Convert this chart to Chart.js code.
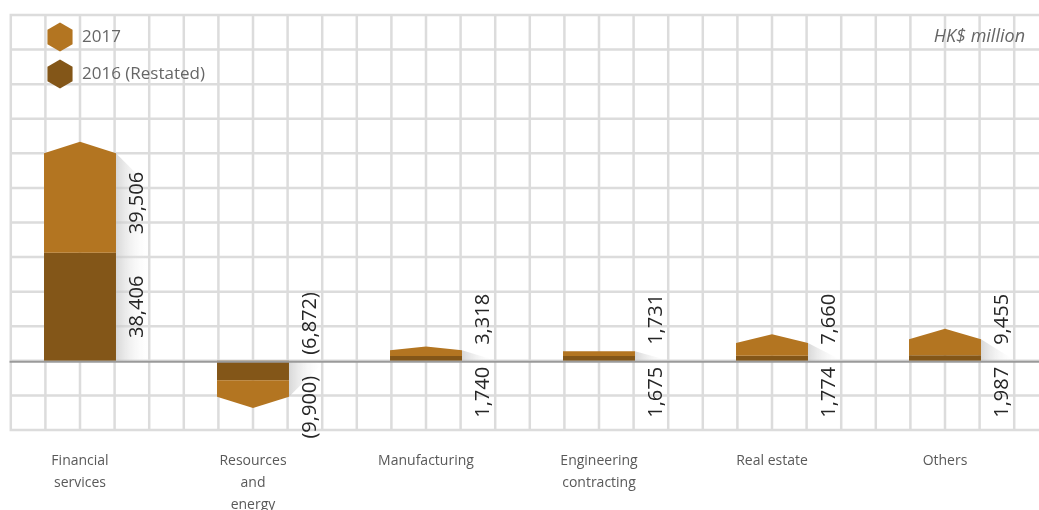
<!DOCTYPE html>
<html>
<head>
<meta charset="utf-8">
<script src="https://cdn.jsdelivr.net/npm/chart.js@4.4.1/dist/chart.umd.min.js"></script>
<style>
    html, body { margin: 0; padding: 0; background: #fff; }
    #wrap { width: 1039px; height: 510px; position: relative; }
</style>
</head>
<body>
<div id="wrap"><canvas id="chart"></canvas></div>
<script>
// values as printed on the chart, HK$ million
var categories = [["Financial", "services"], ["Resources", "and", "energy"], ["Manufacturing"], ["Engineering", "contracting"], ["Real estate"], ["Others"]];
var values2016 = [38406, -6872, 1740, 1675, 1774, 1987];
var values2017 = [39506, -9900, 3318, 1731, 7660, 9455];
var seriesNames = ["2016 (Restated)", "2017"];
var unitLabel = "HK$ million";

var Y_MIN = -24600;
var Y_MAX = 123000;
var Y_STEP = 12300;

var COLOR_2016 = "#835618";
var COLOR_2017 = "#b37521";
var GRID_COLOR = "#dcdcdc";
var FONT = "'Open Sans', 'Noto Sans', sans-serif";
var CELLS_PER_CATEGORY = 5;

function formatValue(v) {
    var s = Math.abs(v).toLocaleString("en-US");
    return v < 0 ? "(" + s + ")" : s;
}

function gridPitch(chart) {
    var area = chart.chartArea;
    return (area.right - area.left) / ((categories.length - 1) * CELLS_PER_CATEGORY);
}

// geometry of a bar element; pentagon cap only used for the outer series
function barShape(el, capped) {
    var p = el.getProps(["x", "y", "base", "width"], true);
    var half = p.width / 2;
    var dir = p.base >= p.y ? 1 : -1;
    var len = Math.abs(p.base - p.y);
    var cap = 0;
    if (capped && len > 6) {
        cap = Math.min(11.5, len * 0.4);
    }
    return {
        x: p.x,
        left: p.x - half,
        right: p.x + half,
        tip: p.y,
        shoulder: p.y + dir * cap,
        base: p.base,
        dir: dir
    };
}

function hexagon(ctx, cx, cy, r) {
    ctx.beginPath();
    for (var k = 0; k < 6; k++) {
        var a = Math.PI / 180 * (60 * k - 90);
        var px = cx + r * Math.cos(a);
        var py = cy + r * Math.sin(a);
        if (k === 0) {
            ctx.moveTo(px, py);
        } else {
            ctx.lineTo(px, py);
        }
    }
    ctx.closePath();
}

var paperPlugin = {
    id: "paper",
    beforeDatasetsDraw: function(chart) {
        var ctx = chart.ctx;
        var area = chart.chartArea;
        var yScale = chart.scales.y;
        var pitch = gridPitch(chart);
        var x0 = area.left - 2 * pitch;
        var top = yScale.getPixelForValue(Y_MAX);
        var bottom = yScale.getPixelForValue(Y_MIN);
        var zero = yScale.getPixelForValue(0);

        ctx.save();
        ctx.strokeStyle = GRID_COLOR;
        ctx.lineWidth = 2.5;
        ctx.beginPath();
        for (var x = x0; x <= chart.width; x += pitch) {
            ctx.moveTo(x, top - 1.25);
            ctx.lineTo(x, bottom + 1.25);
        }
        for (var v = Y_MIN; v <= Y_MAX; v += Y_STEP) {
            var py = yScale.getPixelForValue(v);
            ctx.moveTo(x0 - 1.25, py);
            ctx.lineTo(chart.width, py);
        }
        ctx.stroke();

        // soft shadow to the right of each bar
        var outerMeta = chart.getDatasetMeta(1);
        for (var i = 0; i < outerMeta.data.length; i++) {
            var s = barShape(outerMeta.data[i], true);
            var drop = Math.abs(zero - s.shoulder);
            var w = pitch;
            var grad = ctx.createLinearGradient(s.right, 0, s.right + w, 0);
            grad.addColorStop(0, "rgba(195,195,195,0.65)");
            grad.addColorStop(1, "rgba(255,255,255,0)");
            ctx.fillStyle = grad;
            ctx.beginPath();
            ctx.moveTo(s.right, s.shoulder);
            if (drop > w) {
                ctx.lineTo(s.right + w, s.shoulder + s.dir * w);
            }
            ctx.lineTo(s.right + w, zero);
            ctx.lineTo(s.right, zero);
            ctx.closePath();
            ctx.fill();
        }
        ctx.restore();
    },
    beforeDatasetDraw: function(chart, args) {
        // the capped series is painted by hand below
        if (chart.data.datasets[args.index].shape === "pentagon") {
            return false;
        }
    },
    afterDatasetsDraw: function(chart) {
        var ctx = chart.ctx;
        var yScale = chart.scales.y;
        var pitch = gridPitch(chart);
        var x0 = chart.chartArea.left - 2 * pitch;
        var zero = yScale.getPixelForValue(0);
        var innerMeta = chart.getDatasetMeta(0);
        var outerMeta = chart.getDatasetMeta(1);
        var outerSet = chart.data.datasets[1];

        ctx.save();
        // pentagon tops
        ctx.fillStyle = outerSet.backgroundColor;
        for (var i = 0; i < outerMeta.data.length; i++) {
            var s = barShape(outerMeta.data[i], true);
            ctx.beginPath();
            ctx.moveTo(s.left, s.base);
            ctx.lineTo(s.left, s.shoulder);
            ctx.lineTo(s.x, s.tip);
            ctx.lineTo(s.right, s.shoulder);
            ctx.lineTo(s.right, s.base);
            ctx.closePath();
            ctx.fill();
        }

        // zero line
        ctx.strokeStyle = "#9a9a9a";
        ctx.lineWidth = 2;
        ctx.beginPath();
        ctx.moveTo(x0 - 1.25, zero + 1);
        ctx.lineTo(chart.width, zero + 1);
        ctx.stroke();

        // value labels, rotated
        ctx.font = "20px " + FONT;
        ctx.fillStyle = "#262626";
        ctx.textBaseline = "middle";
        for (var j = 0; j < outerMeta.data.length; j++) {
            var outer = barShape(outerMeta.data[j], true);
            var inner = barShape(innerMeta.data[j], false);
            var outerText = formatValue(chart.data.datasets[1].data[j]);
            var innerText = formatValue(chart.data.datasets[0].data[j]);
            var lx = outer.right + 21;
            var outerLen = Math.abs(outer.base - outer.shoulder);
            var innerLen = Math.abs(inner.base - inner.tip);
            var fits = outerLen > ctx.measureText(outerText).width + 16 &&
                innerLen > ctx.measureText(innerText).width + 16;
            var items;
            if (fits) {
                items = [
                    { t: outerText, y: (outer.base + outer.shoulder) / 2, align: "center" },
                    { t: innerText, y: (inner.base + inner.tip) / 2, align: "center" }
                ];
            } else if (outer.dir > 0) {
                items = [
                    { t: outerText, y: zero - 16, align: "left" },
                    { t: innerText, y: zero + 6, align: "right" }
                ];
            } else {
                items = [
                    { t: outerText, y: zero + 15, align: "right" },
                    { t: innerText, y: zero - 6, align: "left" }
                ];
            }
            items.forEach(function(it) {
                ctx.save();
                ctx.translate(lx, it.y);
                ctx.rotate(-Math.PI / 2);
                ctx.textAlign = it.align;
                ctx.fillText(it.t, 0, 0);
                ctx.restore();
            });
        }

        // legend, newest series first
        ctx.font = "17px " + FONT;
        ctx.fillStyle = "#666";
        ctx.textAlign = "left";
        var order = [1, 0];
        for (var k = 0; k < order.length; k++) {
            var ds = chart.data.datasets[order[k]];
            var cy = 37 + k * 37;
            ctx.fillStyle = ds.backgroundColor;
            hexagon(ctx, 60, cy, 14.5);
            ctx.fill();
            ctx.fillStyle = "#666";
            ctx.fillText(ds.label, 82, cy);
        }

        ctx.font = "italic 18px " + FONT;
        ctx.textAlign = "right";
        ctx.textBaseline = "alphabetic";
        ctx.fillText(unitLabel, 1025, 42);
        ctx.restore();
    }
};

new Chart(document.getElementById("chart"), {
    type: "bar",
    data: {
        labels: categories,
        datasets: [
            {
                label: seriesNames[0],
                data: values2016,
                backgroundColor: COLOR_2016,
                borderWidth: 0,
                clip: false
            },
            {
                label: seriesNames[1],
                data: values2017,
                backgroundColor: COLOR_2017,
                borderWidth: 0,
                clip: false,
                shape: "pentagon"
            }
        ]
    },
    options: {
        responsive: true,
        maintainAspectRatio: false,
        animation: false,
        events: [],
        layout: { padding: { left: 80, right: 94, top: 15, bottom: 0 } },
        datasets: {
            bar: { categoryPercentage: 1, barPercentage: 0.416 }
        },
        plugins: {
            legend: { display: false },
            tooltip: { enabled: false }
        },
        scales: {
            x: {
                stacked: true,
                offset: false,
                border: { display: false },
                grid: { display: false, drawTicks: false },
                ticks: {
                    autoSkip: false,
                    maxRotation: 0,
                    padding: 20,
                    color: "#595959",
                    font: { family: FONT, size: 14, lineHeight: "22px" }
                },
                afterFit: function(scale) {
                    scale.height = 80;
                }
            },
            y: {
                stacked: true,
                display: false,
                min: Y_MIN,
                max: Y_MAX,
                ticks: { stepSize: Y_STEP }
            }
        }
    },
    plugins: [paperPlugin]
});
</script>
</body>
</html>
